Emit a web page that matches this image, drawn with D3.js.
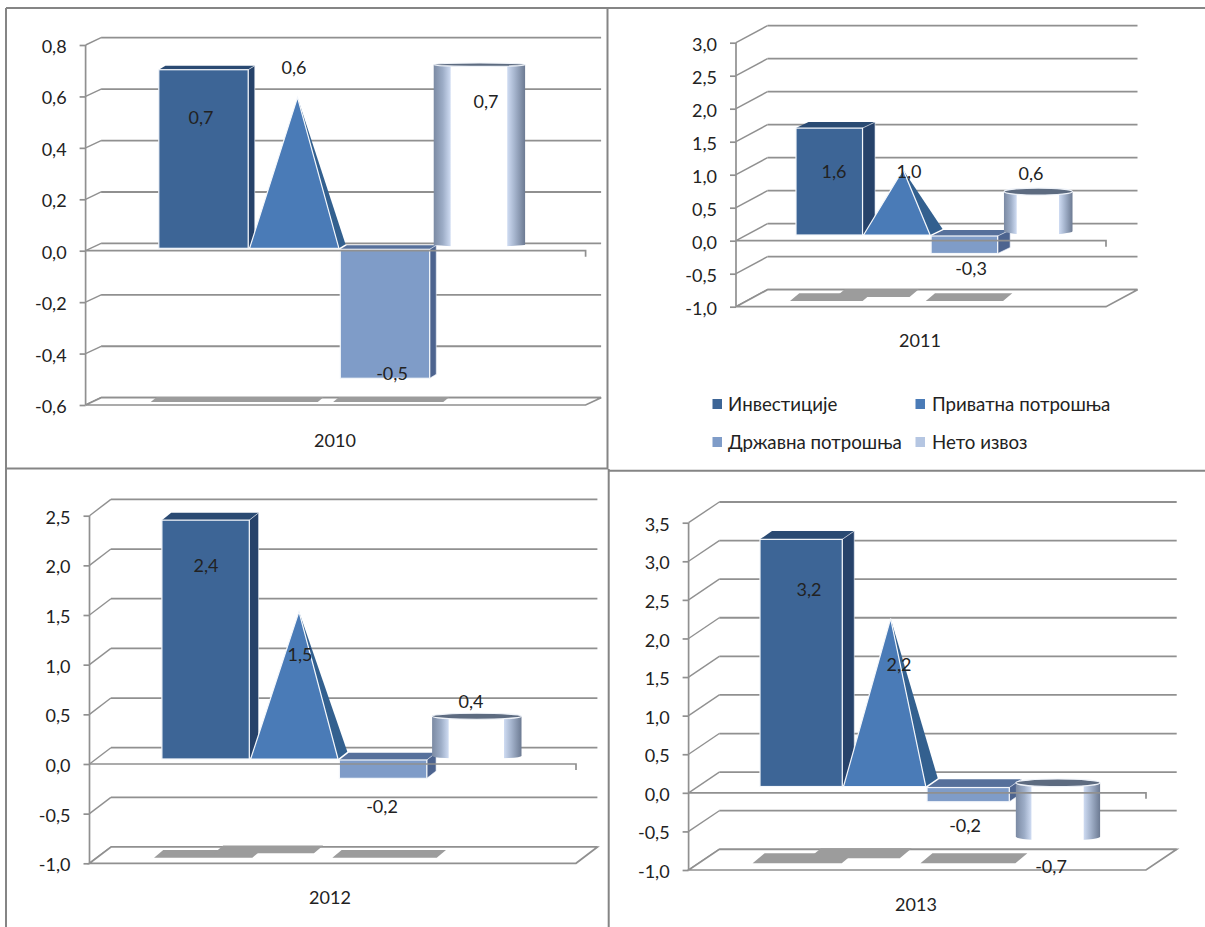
<!DOCTYPE html>
<html>
<head>
<meta charset="utf-8">
<script src="https://cdnjs.cloudflare.com/ajax/libs/d3/7.8.5/d3.min.js"></script>
<style>
  html, body { margin: 0; padding: 0; background: #fff; }
  svg { display: block; }
  text { font-family: Lato, "Open Sans", sans-serif; fill: #222; }
</style>
</head>
<body>
<script>
// GDP growth contributions by component, one 3-D style panel per year.
const categories = ["Инвестиције", "Приватна потрошња", "Државна потрошња", "Нето извоз"];
const years = ["2010", "2011", "2012", "2013"];

const values2010 = [0.7, 0.6, -0.5, 0.7];
const values2011 = [1.6, 1.0, -0.3, 0.6];
const values2012 = [2.4, 1.5, -0.2, 0.4];
const values2013 = [3.2, 2.2, -0.2, -0.7];

const ticks2010 = [-0.6, -0.4, -0.2, 0, 0.2, 0.4, 0.6, 0.8];
const ticks2011 = [-1, -0.5, 0, 0.5, 1, 1.5, 2, 2.5, 3];
const ticks2012 = [-1, -0.5, 0, 0.5, 1, 1.5, 2, 2.5];
const ticks2013 = [-1, -0.5, 0, 0.5, 1, 1.5, 2, 2.5, 3, 3.5];

const seriesColors = ["#3d6596", "#4a7bb7", "#7f9cc8", "#b5c6e2"];
const topColors = ["#2a4a72", "#2a4a72", "#56709b", "#5d6b80"];
const sideColors = ["#26426a", "#33608f", "#4d648f", "#5d6b80"];

// Panel geometry: plot box, wall depth, mark depth and where each text sits.
const panels = [
  { year: years[0], values: values2010, ticks: ticks2010,
    x0: 85.6, x1: 585.6, yTop: 45, yBottom: 405, depthX: 15.5, depthY: 7.3,
    band: [158.8, 520.4], cylShift: 2.7, sideX: 6.6, sideY: 4, markLift: 1, baseGap: 2.4, cylLift: 6, ry: 1.7,
    shadowH: 5, shadowLift: 3, upperLift: 0,
    labels: [[201, 117], [294, 67], [392, 373], [486, 101]], yearAt: [335, 440] },
  { year: years[1], values: values2011, ticks: ticks2011,
    x0: 736, x1: 1106, yTop: 42.7, yBottom: 306.7, depthX: 31.5, depthY: 17,
    band: [796, 1065.2], cylShift: 5.3, sideX: 12.5, sideY: 6, markLift: 7, baseGap: 5.7, cylLift: 9.5, ry: 3.5,
    shadowH: 7.7, shadowLift: 5.7, upperLift: 4,
    labels: [[834, 171], [909, 171], [971, 268], [1031, 173]], yearAt: [920, 340] },
  { year: years[2], values: values2012, ticks: ticks2012,
    x0: 89.5, x1: 576, yTop: 515.7, yBottom: 863.3, depthX: 21.4, depthY: 16.3,
    band: [161.9, 515.5], cylShift: 4, sideX: 9.3, sideY: 7.3, markLift: 5.5, baseGap: 5, cylLift: 8, ry: 3,
    shadowH: 7.7, shadowLift: 5.6, upperLift: 4.4,
    labels: [[206, 565], [300, 654], [382, 806], [471, 701]], yearAt: [330, 897] },
  { year: years[3], values: values2013, ticks: ticks2013,
    x0: 688.6, x1: 1146, yTop: 522.7, yBottom: 870, depthX: 30.7, depthY: 20.7,
    band: [760, 1092.8], cylShift: 5.3, sideX: 12, sideY: 8.3, markLift: 6.5, baseGap: 6.3, cylLift: 10, ry: 3.8,
    shadowH: 10, shadowLift: 6.7, upperLift: 5,
    labels: [[809, 589], [899, 664], [965, 825], [1051, 866]], yearAt: [916, 904] }
];

// Floor shadow extents: left edge from the band's left, right edge from the band's right,
// as fractions of a band width, for the first three series.
const shadowSpans = [[-0.09, 0.14], [-0.42, -0.17], [-0.08, 0.22]];

const legendRows = [
  { index: 0, sq: 712.5, text: 728, y: 404 },
  { index: 1, sq: 915.5, text: 932, y: 404 },
  { index: 2, sq: 712.5, text: 728, y: 442 },
  { index: 3, sq: 915.5, text: 932, y: 442 }
];

const gridColor = "#909090";
const labelSize = "18px";
const comma = v => d3.format(".1f")(v).replace(".", ",").replace("−", "-");
const poly = pts => pts.map(p => p.join(",")).join(" ");

const svg = d3.select("body").append("svg").attr("width", 1205).attr("height", 927);

// Metallic shading of the cylinder body.
const grad = svg.append("defs").append("linearGradient").attr("id", "cyl");
[[0, "#7b8aa3"], [0.1, "#9dadc7"], [0.18, "#ccd9f0"], [0.19, "#ffffff"], [0.8, "#ffffff"],
 [0.81, "#ccd9f0"], [0.89, "#a3b2cb"], [1, "#6c7a92"]].forEach(([o, c]) =>
  grad.append("stop").attr("offset", o).attr("stop-color", c));
svg.select("defs").append("filter").attr("id", "soft")
  .append("feGaussianBlur").attr("stdDeviation", 0.7);

// Frame lines between the four panels.
const frame = svg.append("g").attr("stroke", "#858585").attr("stroke-width", 2);
[[6, 8, 1205, 8], [6, 8, 6, 927], [607.5, 8, 607.5, 469], [608.7, 469, 608.7, 927],
 [6, 468.5, 608, 468.5], [608, 470.7, 1205, 470.7]].forEach(d =>
  frame.append("line").attr("x1", d[0]).attr("y1", d[1]).attr("x2", d[2]).attr("y2", d[3]));

panels.forEach(drawPanel);

function drawPanel(p) {
  const g = svg.append("g");
  const y = d3.scaleLinear().domain(d3.extent(p.ticks)).range([p.yBottom, p.yTop]);
  const x = d3.scaleBand().domain(categories).range(p.band).paddingInner(0.015);
  const w = x.bandwidth();
  const backX = p.x1 + p.depthX;

  // Back wall gridlines and their slanted returns on the side wall.
  p.ticks.forEach(t => {
    g.append("line").attr("x1", p.x0 + p.depthX).attr("x2", backX)
      .attr("y1", y(t) - p.depthY).attr("y2", y(t) - p.depthY)
      .attr("stroke", gridColor).attr("stroke-width", 1.8);
    g.append("line").attr("x1", p.x0).attr("x2", p.x0 + p.depthX)
      .attr("y1", y(t)).attr("y2", y(t) - p.depthY)
      .attr("stroke", gridColor).attr("stroke-width", 1.4);
  });

  // Floor outline.
  const yMin = p.yBottom;
  g.append("polygon")
    .attr("points", poly([[p.x0, yMin], [p.x0 + p.depthX, yMin - p.depthY], [backX, yMin - p.depthY], [p.x1, yMin]]))
    .attr("fill", "#fff").attr("stroke", gridColor).attr("stroke-width", 1.7);

  // Floor shadows beneath the first three series.
  const shadows = g.append("g").attr("fill", "#9c9c9c").attr("filter", "url(#soft)");
  shadowSpans.forEach((s, i) => {
    const bx = x(categories[i]);
    const bottom = yMin - p.shadowLift - (i === 1 ? p.upperLift : 0);
    const left = bx + s[0] * w, right = bx + w + s[1] * w;
    shadows.append("polygon").attr("points", poly([
      [left, bottom], [left + p.shadowH * 1.2, bottom - p.shadowH],
      [right, bottom - p.shadowH], [right - p.shadowH * 1.2, bottom]
    ]));
  });

  // Marks: column, pyramid, column, cylinder.
  const marks = g.append("g");
  p.values.forEach((v, i) => {
    const cat = categories[i], left = x(cat), right = left + w;
    const base = y(0) - p.baseGap;
    if (i === 1) {
      const apexY = y(v) - p.markLift + 2;
      const apexX = left + w / 2 + p.sideX / 2;
      marks.append("polygon").attr("points", poly([
        [apexX, apexY], [right + p.sideX, base - p.sideY], [right, base]
      ])).attr("fill", sideColors[i]);
      marks.append("polygon").attr("points", poly([
        [left, base], [apexX, apexY], [right, base]
      ])).attr("fill", seriesColors[i]).attr("stroke", "#f4f7fb").attr("stroke-width", 1.2);
    } else if (i === 3) {
      const cLeft = left + p.cylShift, cw = w + 2, cRight = cLeft + cw;
      const cTop = y(Math.max(v, 0)) - p.cylLift;
      const cBot = y(Math.min(v, 0)) - p.cylLift;
      marks.append("path")
        .attr("d", `M${cLeft},${cTop}L${cLeft},${cBot}A${cw / 2},${p.ry} 0 0 0 ${cRight},${cBot}L${cRight},${cTop}Z`)
        .attr("fill", "url(#cyl)");
      marks.append("ellipse").attr("cx", cLeft + cw / 2).attr("cy", cTop)
        .attr("rx", cw / 2).attr("ry", p.ry)
        .attr("fill", topColors[i]).attr("stroke", "#eef2f8").attr("stroke-width", 1.2);
    } else {
      const top = v >= 0 ? y(v) - p.markLift : base + 1;
      const bottom = v >= 0 ? base : y(v) - p.markLift;
      marks.append("polygon").attr("points", poly([
        [left, top], [left + p.sideX, top - p.sideY], [right + p.sideX, top - p.sideY], [right, top]
      ])).attr("fill", topColors[i]);
      marks.append("polygon").attr("points", poly([
        [right, top], [right + p.sideX, top - p.sideY], [right + p.sideX, bottom - p.sideY], [right, bottom]
      ])).attr("fill", sideColors[i]).attr("stroke", "#eef2f8").attr("stroke-width", 0.6);
      marks.append("rect").attr("x", left).attr("y", top)
        .attr("width", w).attr("height", bottom - top)
        .attr("fill", seriesColors[i]).attr("stroke", "#f4f7fb").attr("stroke-width", 1.2);
    }
  });

  // Value axis with outward ticks, then the zero line in front of the marks.
  const axis = g.append("g").attr("transform", `translate(${p.x0},0)`)
    .call(d3.axisLeft(y).tickValues(p.ticks).tickFormat(comma).tickSize(6).tickPadding(13));
  axis.selectAll("path, line").attr("stroke", gridColor).attr("stroke-width", 1.7);
  axis.select(".domain").attr("d", `M0,${p.yTop}V${p.yBottom}`);
  axis.selectAll("text").style("font-family", "Lato, 'Open Sans', sans-serif")
    .style("font-size", labelSize).attr("fill", "#222").attr("dy", "0.42em");
  g.append("path").attr("d", `M${p.x0},${y(0)}H${p.x1}v6`)
    .attr("fill", "none").attr("stroke", gridColor).attr("stroke-width", 1.7);

  // Value labels and the year caption.
  p.values.forEach((v, i) => {
    g.append("text").attr("x", p.labels[i][0]).attr("y", p.labels[i][1])
      .attr("text-anchor", "middle").attr("dominant-baseline", "central")
      .style("font-size", labelSize).text(comma(v));
  });
  g.append("text").attr("x", p.yearAt[0]).attr("y", p.yearAt[1])
    .attr("text-anchor", "middle").attr("dominant-baseline", "central")
    .style("font-size", labelSize).text(p.year);
}

// Shared legend, placed under the 2011 panel.
const legend = svg.append("g").selectAll("g").data(legendRows).join("g");
legend.append("rect").attr("x", d => d.sq).attr("y", d => d.y - 5)
  .attr("width", 9.5).attr("height", 10).attr("fill", d => seriesColors[d.index]);
legend.append("text").attr("x", d => d.text).attr("y", d => d.y)
  .attr("dominant-baseline", "central").style("font-size", "18.7px")
  .attr("fill", "#333").text(d => categories[d.index]);
</script>
</body>
</html>
